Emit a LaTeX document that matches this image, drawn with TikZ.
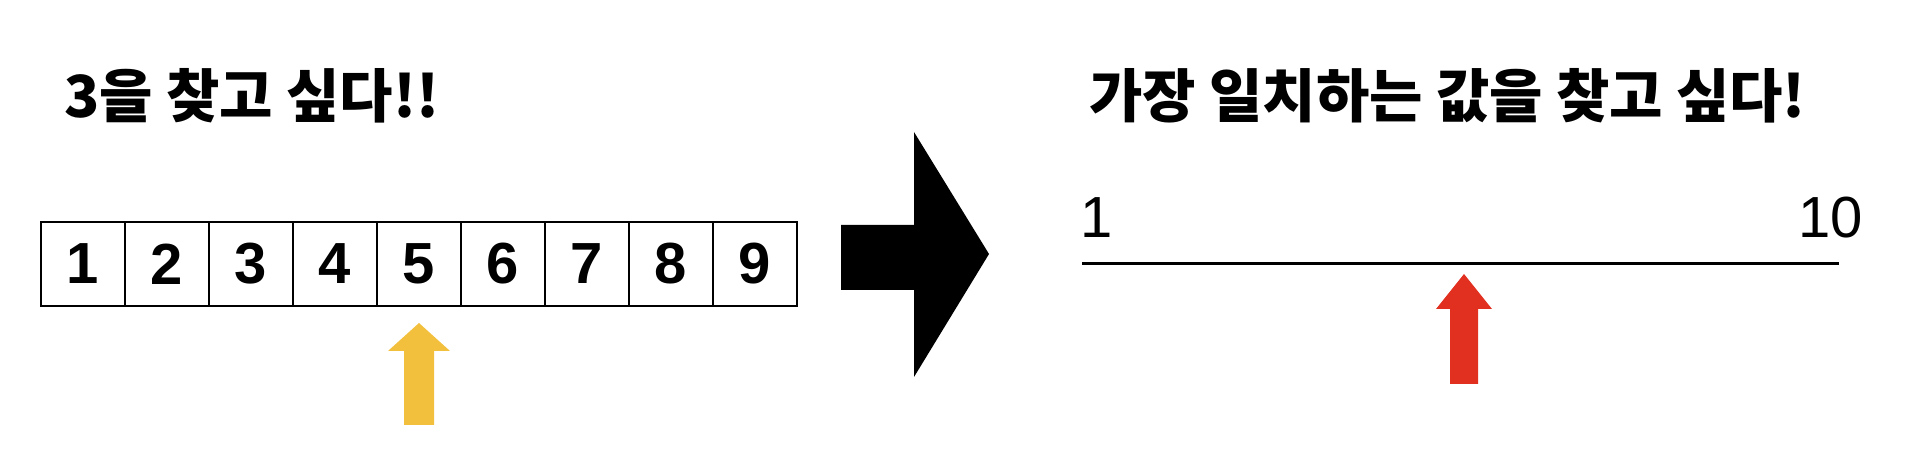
\documentclass[tikz,border=0pt]{standalone}
\usepackage{fontspec}
\setmainfont{Liberation Sans}
\newfontfamily\kr{Noto Sans CJK KR}
\tikzset{
  cell/.style={draw, line width=1.35pt, minimum width=42pt, minimum height=42pt, inner sep=0pt,
    font=\fontsize{29}{29}\selectfont\bfseries},
  title/.style={anchor=base west, inner sep=0pt, font=\kr\fontsize{29}{29}\selectfont\bfseries},
  lbl/.style={inner sep=0pt, font=\fontsize{29}{29}\selectfont},
}
\begin{document}
\begin{tikzpicture}[x=0.5pt,y=-0.5pt]
\useasboundingbox (0,0) rectangle (1932,464);
\node[title] (t1) at (64,118) {3을 찾고 싶다!!};
\node[title] (t2) at (1089,118) {가장 일치하는 값을 찾고 싶다!};
\foreach \i in {1,...,9}{
  \node[cell] (c\i) at ({41+42+84*(\i-1)},264) {\i};
}
% yellow arrow
\fill[fill={rgb,255:red,242;green,192;blue,61}]
  (419,323) -- (450,351) -- (434,351) -- (434,425) -- (404,425) -- (404,351) -- (388,351) -- cycle;
% big black arrow
\fill[black] (841,225) -- (914,225) -- (914,132) -- (989,254) -- (914,377) -- (914,290) -- (841,290) -- cycle;
% number line
\coordinate (l1) at (1082,264);
\coordinate (l2) at (1839,264);
\draw[line width=1.5pt] (l1) -- (l2);
\node[lbl, anchor=base west] (n1) at (1080,238) {1};
\node[lbl, anchor=base east] (n10) at (1863,238) {10};
% red arrow
\fill[fill={rgb,255:red,226;green,48;blue,32}]
  (1464,274) -- (1492,309) -- (1478,309) -- (1478,384) -- (1450,384) -- (1450,309) -- (1436,309) -- cycle;
\end{tikzpicture}
\end{document}
